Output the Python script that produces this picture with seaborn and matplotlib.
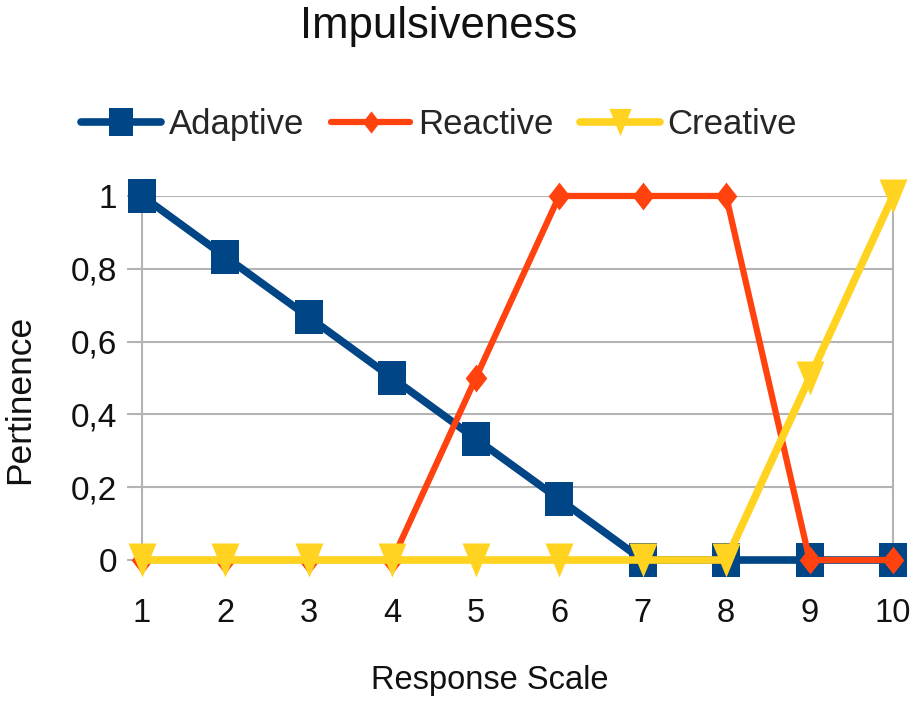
import matplotlib
matplotlib.use("Agg")
import matplotlib.pyplot as plt
import seaborn as sns
import pandas as pd
from matplotlib.ticker import FuncFormatter

x_values = [1, 2, 3, 4, 5, 6, 7, 8, 9, 10]
adaptive = [1, 0.833, 0.667, 0.5, 0.333, 0.167, 0, 0, 0, 0]
reactive = [0, 0, 0, 0, 0.5, 1, 1, 1, 0, 0]
creative = [0, 0, 0, 0, 0, 0, 0, 0, 0.5, 1]
series_names = ["Adaptive", "Reactive", "Creative"]
y_ticks = [0, 0.2, 0.4, 0.6, 0.8, 1]

sns.set_theme(style="white")
plt.rcParams['font.family'] = ['Liberation Sans', 'DejaVu Sans']

df = pd.DataFrame({"x": x_values * 3,
                   "y": adaptive + reactive + creative,
                   "series": sum([[n] * len(x_values) for n in series_names], [])})

fig = plt.figure(figsize=(9.19, 7.07), dpi=100)
ax = fig.add_axes([0.1545, 0.2079, 0.8172, 0.5149])

# slightly tall marker shapes (the reference is stretched vertically)
square_m = [(-0.83, -1), (0.83, -1), (0.83, 1), (-0.83, 1), (-0.83, -1)]
diamond_m = [(0, -1), (0.78, 0), (0, 1), (-0.78, 0), (0, -1)]
tri_m = [(-0.82, 1), (0.82, 1), (0, -1), (-0.82, 1)]

colors = {"Adaptive": "#004586", "Reactive": "#ff420e", "Creative": "#ffd320"}
markers = {"Adaptive": square_m, "Reactive": diamond_m, "Creative": tri_m}
msizes = {"Adaptive": 25, "Reactive": 20, "Creative": 24.5}
lws = {"Adaptive": 5.5, "Reactive": 4.5, "Creative": 5.5}

for name in series_names:
    sub = df[df.series == name]
    sns.lineplot(data=sub, x="x", y="y", ax=ax, color=colors[name], lw=lws[name],
                 marker=markers[name], markersize=msizes[name], markeredgewidth=0,
                 label=name, clip_on=False, zorder=3)

ax.set_xlim(1, 10)
ax.set_ylim(0, 1)
ax.set_xticks(x_values)
ax.set_yticks(y_ticks)
ax.yaxis.set_major_formatter(FuncFormatter(lambda v, p: ('%g' % v).replace('.', ',')))
ax.grid(axis='y', color='#b3b3b3', lw=1.5)
ax.set_axisbelow(True)
for s in ['top', 'bottom']:
    ax.spines[s].set_visible(False)
for s in ['left', 'right']:
    ax.spines[s].set_color('#b3b3b3')
    ax.spines[s].set_linewidth(1.5)
ax.tick_params(axis='y', left=True, length=11, width=1.5, color='#b3b3b3', labelsize=24, pad=7)
ax.tick_params(axis='x', bottom=False, labelsize=23.5, pad=21)
for lab in ax.get_xticklabels() + ax.get_yticklabels():
    lab.set_color('#111111')

ax.set_xlabel("Response Scale", fontsize=23.5, color='#111111', va='center')
ax.xaxis.set_label_coords(0.463, -0.332)
ax.set_ylabel("Pertinence", fontsize=25.5, color='#111111', va='center')
ax.yaxis.set_label_coords(-0.1625, 0.442)
fig.text(439 / 919, 0.962, "Impulsiveness", fontsize=31.5, color='#111111',
         ha='center', va='center')

handles, labels = ax.get_legend_handles_labels()
ax.get_legend().remove()
fig.legend(handles, labels, loc='center', bbox_to_anchor=(0.478, 0.824), ncol=3,
           frameon=False, fontsize=25, handlelength=2.3, columnspacing=0.75,
           handletextpad=0.23, borderpad=0, borderaxespad=0, markerscale=0.8)

fig.savefig("out.png", dpi=100)
